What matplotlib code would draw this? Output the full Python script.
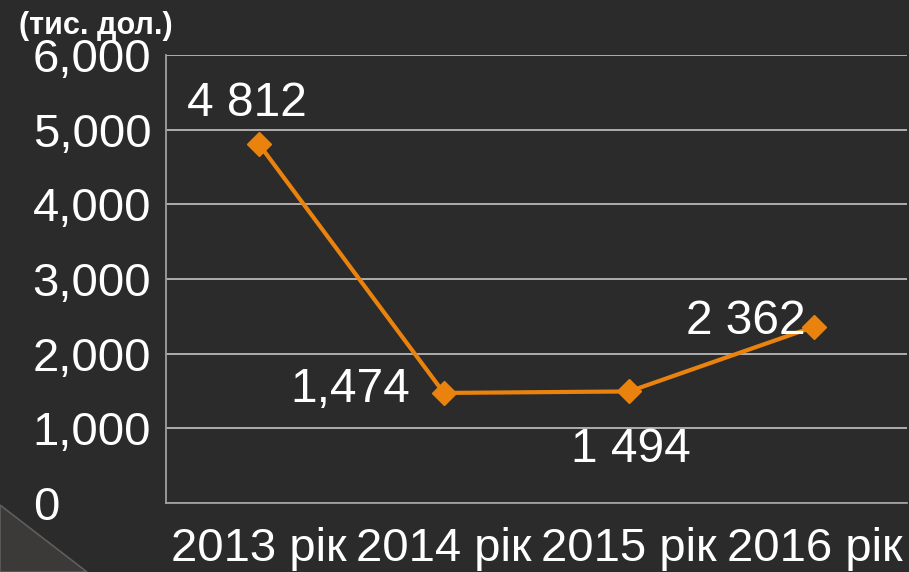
import matplotlib.pyplot as plt
from matplotlib.patches import Polygon

# дані
roky = ['2013 рік', '2014 рік', '2015 рік', '2016 рік']
znach = [4812, 1474, 1494, 2362]
pidpysy = ['4 812', '1,474', '1 494', '2 362']
yticks = [0, 1000, 2000, 3000, 4000, 5000, 6000]
ytick_labels = ['0', '1,000', '2,000', '3,000', '4,000', '5,000', '6,000']

bg = '#2b2b2b'
orange = '#ea820e'
plt.rcParams['font.family'] = ['Liberation Sans', 'DejaVu Sans']

fig = plt.figure(figsize=(9.09, 5.72), dpi=100, facecolor=bg)

# декоративний трикутник внизу зліва
tri = Polygon([(0, 0), (0, 67 / 572), (87 / 909, 0)], closed=True,
              transform=fig.transFigure, facecolor='#3b3a38',
              edgecolor='#5e5e5e', lw=1.2)
fig.patches.append(tri)

ax = fig.add_axes([166 / 909, 69 / 572, 741 / 909, 448 / 572])
ax.set_facecolor(bg)

x = list(range(len(roky)))
ax.plot(x, znach, color=orange, lw=3, marker='D', markersize=12, zorder=3)

# підписи значень (зсув у пікселях)
offsets = [(-12, 40), (-94, 3), (2, -58), (-69, 5)]
for xi, v, t, off in zip(x, znach, pidpysy, offsets):
    ax.annotate(t, (xi, v), xytext=off, textcoords='offset pixels',
                ha='center', va='center', color='white', fontsize=34.5, zorder=4)

ax.set_xlim(-0.5, len(roky) - 0.5)
ax.set_ylim(0, 6000)
ax.set_yticks(yticks)
ax.set_yticklabels(ytick_labels)
ax.set_xticks(x)
ax.set_xticklabels(roky)
ax.yaxis.grid(True, color='#b8b8b8', lw=1.3)
ax.set_axisbelow(True)

for s in ['top', 'right']:
    ax.spines[s].set_visible(False)
for s in ['left', 'bottom']:
    ax.spines[s].set_color('#a0a0a0')
    ax.spines[s].set_linewidth(1.3)

ax.tick_params(axis='both', length=0, colors='white', labelsize=34)
ax.tick_params(axis='y', pad=96)
ax.tick_params(axis='x', pad=17)
for lab in ax.get_yticklabels():
    lab.set_horizontalalignment('left')

fig.text(96 / 909, 1 - 26 / 572, '(тис. дол.)', color='white', fontsize=22,
         fontweight='bold', ha='center', va='center')

fig.savefig('out.png', dpi=100, facecolor=bg)
